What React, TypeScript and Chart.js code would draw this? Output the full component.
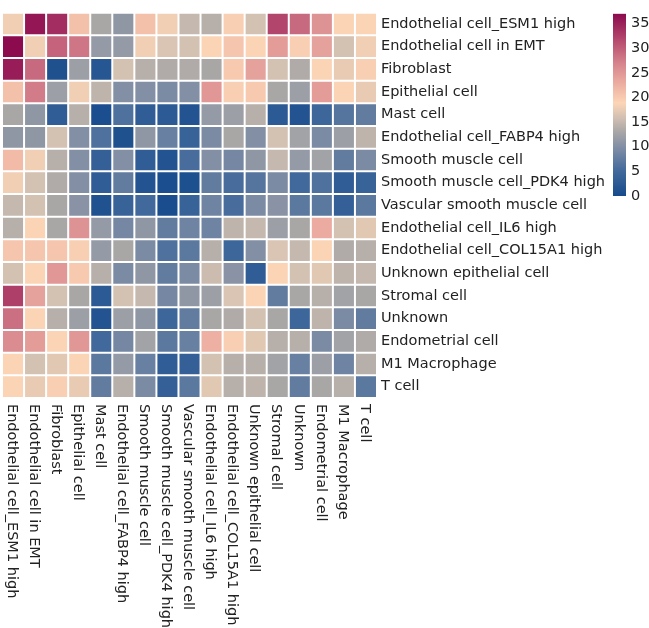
import React, { useEffect, useRef } from 'react';
import { Chart, registerables } from 'chart.js';

Chart.register(...registerables);

const cellTypes = [
  'Endothelial cell_ESM1 high',
  'Endothelial cell in EMT',
  'Fibroblast',
  'Epithelial cell',
  'Mast cell',
  'Endothelial cell_FABP4 high',
  'Smooth muscle cell',
  'Smooth muscle cell_PDK4 high',
  'Vascular smooth muscle cell',
  'Endothelial cell_IL6 high',
  'Endothelial cell_COL15A1 high',
  'Unknown epithelial cell',
  'Stromal cell',
  'Unknown',
  'Endometrial cell',
  'M1 Macrophage',
  'T cell',
];

const rowESM1 = [18, 36, 34, 21, 13, 11, 21, 18, 15, 14, 19.5, 16, 32, 29, 25.5, 19, 19];
const rowEMT = [37, 18, 29.5, 28, 11.5, 11.5, 18, 16.5, 16, 19, 20.5, 19, 24.5, 19.5, 24, 16, 18];
const rowFibroblast = [35.5, 29, 1, 12, 2, 16, 14, 13.5, 13.5, 13, 20, 24, 16, 13.5, 19, 17.5, 19.5];
const rowEpithelial = [21, 27.5, 12, 18, 14.5, 10, 10, 9.5, 10, 25, 19.5, 20, 13, 12, 24.5, 19, 17.5];
const rowMast = [13, 11, 3, 14, 0.5, 6, 3, 2.5, 1.5, 11.5, 12, 14, 2.5, 1.5, 4.5, 6.5, 7.5];
const rowFABP4 = [11, 11, 16, 10, 6, 1, 11, 8, 4, 9.5, 13, 10, 16, 12.5, 9.5, 12, 14.5];
const rowSMC = [21.5, 18, 14, 10, 3.5, 10, 3, 1.5, 5.5, 10, 9, 11, 15, 11.5, 12.5, 7.5, 9.5];
const rowSMCPDK4 = [18, 16, 13.5, 10, 3, 7.5, 1.5, 0.5, 0.8, 7.5, 5.5, 6.5, 9.5, 5, 6, 3, 4];
const rowVSMC = [15, 16, 13, 10.5, 1.2, 4, 5, 0.3, 4, 8.5, 5.5, 9.5, 10.5, 7, 7, 3.5, 7];
const rowIL6 = [14, 19, 13, 25.5, 11.5, 9, 11, 7.5, 8.5, 8.5, 14.5, 15, 12, 13, 23, 16, 17];
const rowCOL15A1 = [20.5, 20.5, 20.5, 19.5, 11.5, 13, 9.5, 6, 7, 14, 4.5, 10, 16.5, 15, 19, 13.5, 14];
const rowUnknownEpi = [16, 19, 25, 20, 14, 9.5, 11, 7.5, 9.5, 15.5, 10.5, 3, 19, 16, 17, 14.5, 15];
const rowStromal = [32.5, 24, 16, 13, 2.5, 16, 15, 9, 11, 12, 16.5, 19, 7.5, 13, 14, 12.5, 13];
const rowUnknown = [28.5, 19, 14, 12, 1.5, 12, 11, 4.5, 7.5, 13, 13.5, 16, 13, 4.5, 14.5, 9.5, 7.5];
const rowEndometrial = [26, 24.5, 19, 25, 5, 9, 12.5, 7, 8, 22.5, 19.5, 17, 14, 14, 9.5, 12.5, 13.5];
const rowM1 = [19, 16, 17, 19, 7, 11.5, 8, 3, 3.5, 16, 14, 14, 12.5, 8, 12, 8.5, 14];
const rowTcell = [19, 17.5, 19.5, 17.5, 7.5, 14, 9.5, 3.5, 7, 17, 14, 14.5, 13, 7.5, 13, 14, 7];

const matrix = [
  rowESM1, rowEMT, rowFibroblast, rowEpithelial, rowMast, rowFABP4, rowSMC, rowSMCPDK4,
  rowVSMC, rowIL6, rowCOL15A1, rowUnknownEpi, rowStromal, rowUnknown, rowEndometrial, rowM1, rowTcell,
];

const colorbarTicks = [0, 5, 10, 15, 20, 25, 30, 35];
const vmin = 0;
const vmax = 37;

const cmapStops: [number, number[]][] = [
  [0.0, [22, 75, 140]],
  [0.135, [65, 105, 155]],
  [0.27, [130, 143, 165]],
  [0.35, [168, 166, 166]],
  [0.43, [210, 192, 178]],
  [0.51, [252, 213, 182]],
  [0.62, [235, 172, 160]],
  [0.73, [213, 130, 140]],
  [0.84, [185, 80, 113]],
  [1.0, [140, 10, 78]],
];

function cmap(t: number): string {
  const tt = Math.max(0, Math.min(1, t));
  for (let i = 1; i < cmapStops.length; i++) {
    const [t1, c1] = cmapStops[i];
    const [t0, c0] = cmapStops[i - 1];
    if (tt <= t1) {
      const f = (tt - t0) / (t1 - t0);
      const c = c0.map((v, k) => Math.round(v + (c1[k] - v) * f));
      return `rgb(${c[0]},${c[1]},${c[2]})`;
    }
  }
  const c = cmapStops[cmapStops.length - 1][1];
  return `rgb(${c[0]},${c[1]},${c[2]})`;
}

const colorFor = (v: number) => cmap((v - vmin) / (vmax - vmin));

const FONT = 'DejaVu Sans';
const FONT_SIZE = 14.5;
const TEXT_COLOR = '#222';

const xLabelPlugin = {
  id: 'xLabelsRotated',
  afterDraw(chart: any) {
    const { ctx, chartArea, scales } = chart;
    ctx.save();
    ctx.font = `${FONT_SIZE}px "${FONT}"`;
    ctx.fillStyle = TEXT_COLOR;
    ctx.textAlign = 'left';
    ctx.textBaseline = 'middle';
    cellTypes.forEach((lab, i) => {
      const x = scales.x.getPixelForValue(i);
      ctx.save();
      ctx.translate(x - 1.5, chartArea.bottom + 6);
      ctx.rotate(Math.PI / 2);
      ctx.fillText(lab, 0, 0);
      ctx.restore();
    });
    ctx.restore();
  },
};

export default function App() {
  const mainRef = useRef<HTMLCanvasElement>(null);
  const cbRef = useRef<HTMLCanvasElement>(null);

  useEffect(() => {
    const datasets = matrix.map((row, r) => ({
      label: cellTypes[r],
      data: row.map(() => [r, r + 1]),
      backgroundColor: row.map((v) => colorFor(v)),
      borderColor: '#ffffff',
      borderWidth: 1,
      borderSkipped: false,
      inflateAmount: 0,
      grouped: false,
      barPercentage: 1,
      categoryPercentage: 1,
    }));

    const main = new Chart(mainRef.current!, {
      type: 'bar',
      data: { labels: cellTypes, datasets: datasets as any },
      options: {
        responsive: false,
        animation: false,
        layout: { padding: { left: 2, top: 2, right: 0, bottom: 0 } },
        plugins: { legend: { display: false }, tooltip: { enabled: true } },
        scales: {
          x: {
            type: 'category',
            grid: { display: false, drawTicks: false },
            border: { display: false },
            ticks: { display: false },
            afterFit: (s: any) => { s.height = 230; },
          },
          y: {
            type: 'linear',
            min: 0,
            max: cellTypes.length,
            reverse: true,
            position: 'right',
            grid: { display: false, drawTicks: false },
            border: { display: false },
            afterBuildTicks: (s: any) => {
              s.ticks = cellTypes.map((_, i) => ({ value: i + 0.5 }));
            },
            ticks: {
              autoSkip: false,
              padding: 4,
              color: TEXT_COLOR,
              font: { family: FONT, size: FONT_SIZE },
              callback: (v: any) => cellTypes[Math.floor(Number(v))],
            },
            afterFit: (s: any) => { s.width = 272; },
          },
        },
      } as any,
      plugins: [xLabelPlugin],
    });

    const cb = new Chart(cbRef.current!, {
      type: 'bar',
      data: {
        labels: [''],
        datasets: [
          {
            data: [[vmin, vmax]] as any,
            borderWidth: 0,
            barPercentage: 1,
            categoryPercentage: 1,
            backgroundColor: (ctx: any) => {
              const chart = ctx.chart;
              const area = chart.chartArea;
              if (!area) return 'rgba(0,0,0,0)';
              const ys = chart.scales.y;
              const g = chart.ctx.createLinearGradient(0, ys.getPixelForValue(vmin), 0, ys.getPixelForValue(vmax));
              cmapStops.forEach(([t, c]) => g.addColorStop(t, `rgb(${c[0]},${c[1]},${c[2]})`));
              return g;
            },
          },
        ],
      },
      options: {
        responsive: false,
        animation: false,
        layout: { padding: { left: 23, top: 2, right: 0, bottom: 19 } },
        plugins: { legend: { display: false }, tooltip: { enabled: false } },
        scales: {
          x: { display: false },
          y: {
            type: 'linear',
            min: vmin,
            max: vmax,
            position: 'right',
            grid: { display: false, drawTicks: false },
            border: { display: false },
            afterBuildTicks: (s: any) => {
              s.ticks = colorbarTicks.map((v) => ({ value: v }));
            },
            ticks: {
              padding: 5,
              color: TEXT_COLOR,
              font: { family: FONT, size: FONT_SIZE },
            },
            afterFit: (s: any) => { s.width = 23; },
          },
        },
      } as any,
    });

    return () => {
      main.destroy();
      cb.destroy();
    };
  }, []);

  return (
    <div style={{ position: 'absolute', left: 0, top: 0, width: 649, height: 628, background: '#fff' }}>
      <canvas ref={mainRef} width={649} height={628} style={{ position: 'absolute', left: 0, top: 0, width: 649, height: 628 }} />
      <canvas ref={cbRef} width={59} height={215} style={{ position: 'absolute', left: 590, top: 0, width: 59, height: 215 }} />
    </div>
  );
}
